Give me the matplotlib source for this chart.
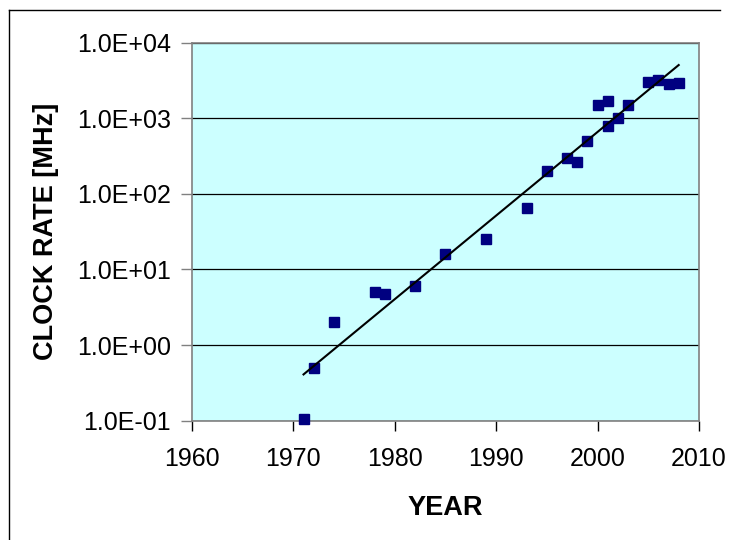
import numpy as np
import matplotlib
import matplotlib.pyplot as plt
from matplotlib.lines import Line2D
from matplotlib.ticker import FuncFormatter, FixedLocator, NullLocator

matplotlib.use('agg')
plt.rcParams['font.family'] = ['Liberation Sans', 'DejaVu Sans']

# processor clock rates by introduction year
years = [1971, 1972, 1974, 1978, 1979, 1982, 1985, 1989, 1993, 1995, 1997,
         1998, 1999, 2000, 2001, 2001, 2002, 2003, 2005, 2006, 2007, 2008]
clock_mhz = [0.105, 0.5, 2, 5, 4.77, 6, 16, 25, 66, 200, 300,
             266, 500, 1500, 1700, 800, 1000, 1500, 3000, 3200, 2800, 2900]

x_ticks = [1960, 1970, 1980, 1990, 2000, 2010]
y_ticks = [1e-1, 1e0, 1e1, 1e2, 1e3, 1e4]

fig = plt.figure(figsize=(7.3, 5.4), dpi=100)
ax = fig.add_axes([0.263, 0.221, 0.6945, 0.700])
ax.set_facecolor('#CCFFFF')

# exponential trend line (least squares on log10 of the rate)
yrs = np.array(years, dtype=float)
logs = np.log10(np.array(clock_mhz, dtype=float))
slope, icpt = np.polyfit(yrs, logs, 1)
trend_x = np.linspace(yrs.min(), yrs.max(), 50)
trend_y = 10 ** (slope * trend_x + icpt)

ax.plot(years, clock_mhz, 's', color='#000080', ms=7, mec='#000080', zorder=3, clip_on=False)
ax.plot(trend_x, trend_y, '-', color='black', lw=1.5, zorder=4)

ax.set_yscale('log')
ax.set_xlim(1960, 2010)
ax.set_ylim(0.1, 1e4)
ax.xaxis.set_major_locator(FixedLocator(x_ticks))
ax.yaxis.set_major_locator(FixedLocator(y_ticks))
ax.yaxis.set_minor_locator(NullLocator())
ax.yaxis.set_major_formatter(FuncFormatter(lambda v, p: '{:.1E}'.format(v)))

ax.grid(True, axis='y', color='black', lw=0.9, zorder=1)
ax.set_axisbelow(True)
for sp in ax.spines.values():
    sp.set_color('#808080')
    sp.set_linewidth(1.2)

ax.tick_params(axis='y', direction='out', length=8, width=1, color='#808080',
               labelsize=18, pad=7)
ax.tick_params(axis='x', direction='out', length=7, width=1, color='black',
               labelsize=18, pad=12)

ax.set_xlabel('YEAR', fontsize=19.5, fontweight='bold', labelpad=17)
ax.set_ylabel('CLOCK RATE [MHz]', fontsize=19.5, fontweight='bold', labelpad=13)

# outer chart frame (top and left edges)
fig.add_artist(Line2D([9 / 730, 720 / 730], [1 - 10 / 540, 1 - 10 / 540],
                      transform=fig.transFigure, color='black', lw=1))
fig.add_artist(Line2D([9 / 730, 9 / 730], [1 - 10 / 540, 0],
                      transform=fig.transFigure, color='black', lw=1))

fig.savefig('out.png', dpi=100)
